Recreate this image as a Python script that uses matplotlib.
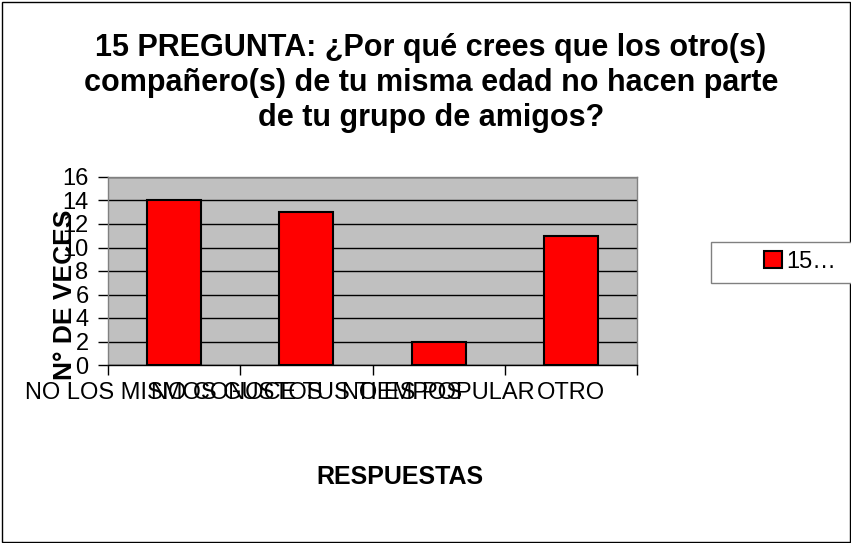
import matplotlib
matplotlib.use("Agg")
import matplotlib.pyplot as plt
from matplotlib.patches import Rectangle, Patch

categories = ["NO LOS MISMOS GUSTOS", "NO CONOCE TUS TIEMPOS", "NO ES POPULAR", "OTRO"]
values = [14, 13, 2, 11]
series_name = "15…"
yticks = [0, 2, 4, 6, 8, 10, 12, 14, 16]
title = ("15 PREGUNTA: ¿Por qué crees que los otro(s)\n"
         "compañero(s) de tu misma edad no hacen parte\n"
         "de tu grupo de amigos?")
ylabel = "N° DE VECES"
xlabel = "RESPUESTAS"

plt.rcParams['font.family'] = ['Liberation Sans', 'DejaVu Sans']

W, H = 851, 543
fig = plt.figure(figsize=(W / 100, H / 100), dpi=100)
fig.patch.set_facecolor("white")

# outer border
fig.patches.append(Rectangle((1.5 / W, 1.5 / H), (W - 3) / W, (H - 3) / H,
                             transform=fig.transFigure, fill=False,
                             edgecolor="black", lw=1))

ax = fig.add_axes([108 / W, 1 - 365 / H, (637 - 108) / W, (365 - 177) / H])
ax.set_facecolor("#C0C0C0")
x = list(range(len(categories)))
ax.bar(x, values, width=0.41, color="#FF0000", edgecolor="black", linewidth=1.5, zorder=3)
ax.set_xlim(-0.5, len(categories) - 0.5)
ax.set_ylim(0, 16)
ax.set_yticks(yticks)
ax.set_yticklabels([str(v) for v in yticks], fontsize=17)
ax.set_xticks(x)
ax.set_xticklabels(categories, fontsize=17)
ax.set_xticks([i - 0.5 for i in range(len(categories) + 1)], minor=True)
ax.tick_params(axis="x", which="major", length=0, pad=12)
ax.tick_params(axis="x", which="minor", length=7, width=1, color="black")
ax.tick_params(axis="y", length=7, width=1, pad=7, color="black")
ax.grid(axis="y", color="black", lw=1, zorder=1)
ax.set_axisbelow(True)
for s in ["left", "top", "right"]:
    ax.spines[s].set_color("#808080")
    ax.spines[s].set_linewidth(1)
ax.spines["bottom"].set_color("black")
ax.spines["bottom"].set_linewidth(1)

fig.text(431 / W, 1 - 83 / H, title, ha="center", va="center",
         fontsize=22, fontweight="bold", linespacing=1.2)
fig.text(65 / W, 1 - 295 / H, ylabel, rotation=90, ha="center", va="center",
         fontsize=19, fontweight="bold")
fig.text(400 / W, 1 - 477 / H, xlabel, ha="center", va="center",
         fontsize=18, fontweight="bold")

# legend box
fig.patches.append(Rectangle((711 / W, 1 - 283 / H), 200 / W, 41 / H,
                             transform=fig.transFigure, fill=True, facecolor="white",
                             edgecolor="#808080", lw=1))
handle = Patch(facecolor="#FF0000", edgecolor="black", linewidth=1.5)
fig.legend([handle], [series_name], loc="center", bbox_to_anchor=(800 / W, 1 - 262 / H),
           frameon=False, fontsize=17, handlelength=0.75, handleheight=0.75,
           handletextpad=0.2, borderpad=0)

fig.savefig("out.png", dpi=100)
